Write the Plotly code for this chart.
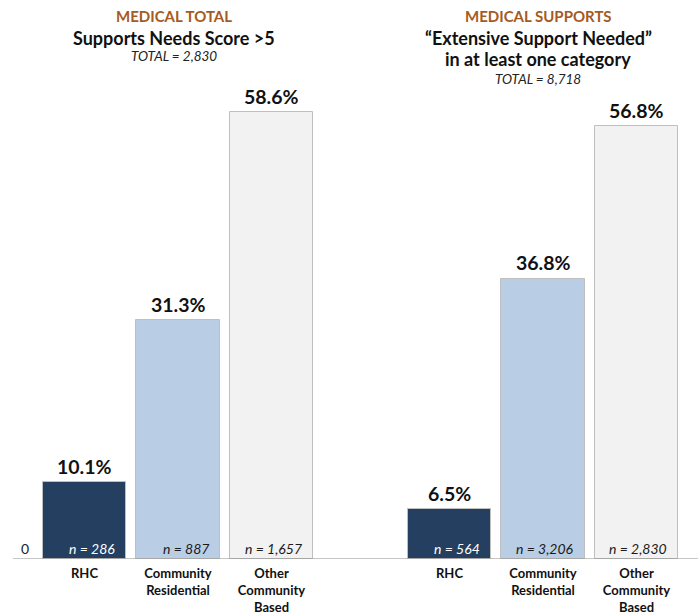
import plotly.graph_objects as go

# Data
categories = ["RHC", "Community<br>Residential", "Other<br>Community<br>Based"]
total_pct = [10.1, 31.3, 58.6]
total_n = ["n = 286", "n = 887", "n = 1,657"]
supports_pct = [6.5, 36.8, 56.8]
supports_n = ["n = 564", "n = 3,206", "n = 2,830"]

bar_colors = ["#243F60", "#B9CDE5", "#F2F2F2"]
n_colors = ["#FFFFFF", "#1A1A1A", "#1A1A1A"]

FONT = "Lato"
W, H = 698, 615
positions = [0, 1, 2]
BAR_W = 0.888

fig = go.Figure()

panels = [
    ("x", total_pct, total_n),
    ("x2", supports_pct, supports_n),
]
for xa, pct, ns in panels:
    fig.add_trace(go.Bar(
        x=positions, y=pct, width=BAR_W, xaxis=xa, yaxis="y",
        marker=dict(color=bar_colors, line=dict(color="#BFBFBF", width=1)),
        hoverinfo="skip", showlegend=False,
    ))
    for p, v, n, nc in zip(positions, pct, ns, n_colors):
        # value label above the bar
        fig.add_annotation(
            x=p, y=v, xref=xa, yref="y", text=f"<b>{v:.1f}%</b>",
            showarrow=False, yanchor="middle", yshift=16,
            font=dict(family=FONT, size=19.5, color="#111111"),
        )
        # sample size inside the bar, bottom right
        fig.add_annotation(
            x=p + BAR_W / 2, y=0, xref=xa, yref="y", text=f"<i>{n}</i>",
            showarrow=False, xanchor="right", yanchor="middle",
            xshift=-9, yshift=11,
            font=dict(family=FONT, size=14, color=nc),
        )

# Zero label on the value axis
fig.add_annotation(x=25 / W, y=0, xref="paper", yref="y", text="0",
                   showarrow=False, xanchor="center", yanchor="middle",
                   yshift=11, font=dict(family=FONT, size=14, color="#222222"))

# Panel titles
titles = [
    (174 / W, [("MEDICAL TOTAL", 18, 15, "#A65A1E", "b"),
               ("Supports Needs Score >5", 42, 18, "#111111", "b"),
               ("TOTAL = 2,830", 62, 13.5, "#222222", "i")]),
    (538 / W, [("MEDICAL SUPPORTS", 18, 15, "#A65A1E", "b"),
               ("\u201cExtensive Support Needed\u201d", 42, 18, "#111111", "b"),
               ("in at least one category", 65, 18, "#111111", "b"),
               ("TOTAL = 8,718", 87, 13.5, "#222222", "i")]),
]
for cx, lines in titles:
    for txt, yc, size, col, style in lines:
        fig.add_annotation(
            x=cx, y=1 - yc / H, xref="paper", yref="paper",
            text=f"<{style}>{txt}</{style}>", showarrow=False,
            xanchor="center", yanchor="middle",
            font=dict(family=FONT, size=size, color=col),
        )

# Baseline
fig.add_shape(type="line", xref="paper", yref="y", x0=13 / W, x1=1, y0=0, y1=0,
              line=dict(color="#8C8C8C", width=1))

unit = 93.5
xa_common = dict(
    tickvals=positions,
    ticktext=[f"<b>{c}</b>" for c in categories],
    tickfont=dict(family=FONT, size=13, color="#111111"),
    showgrid=False, zeroline=False, showline=False, ticks="",
    ticklabelstandoff=5, anchor="y",
)
fig.update_layout(
    width=W, height=H,
    margin=dict(l=0, r=0, t=0, b=H - 564),
    paper_bgcolor="white", plot_bgcolor="white",
    bargap=0,
    xaxis=dict(domain=[0, 350 / W],
               range=[(0 - 84.5) / unit, (350 - 84.5) / unit], **xa_common),
    xaxis2=dict(domain=[350 / W, 1],
                range=[(350 - 449.5) / unit, (698 - 449.5) / unit], **xa_common),
    yaxis=dict(range=[0, 564 / 7.69], showticklabels=False,
               showgrid=False, zeroline=False, showline=False, ticks=""),
)

fig.write_html("out.html")
